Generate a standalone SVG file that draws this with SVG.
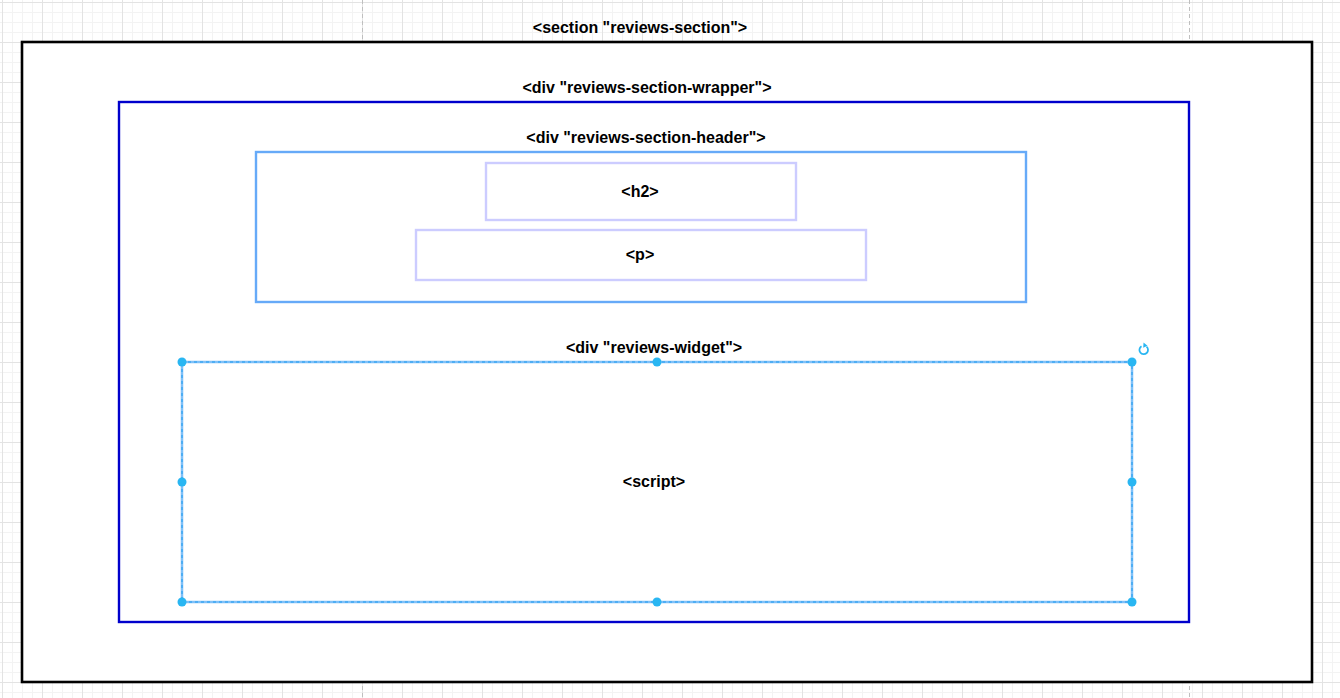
<svg xmlns="http://www.w3.org/2000/svg" width="1340" height="698" viewBox="0 0 1340 698">
  <style>
    .lbl { font-family: "Liberation Sans", Arial, sans-serif; font-size: 16px; font-weight: bold; fill: #000000; text-anchor: middle; }
    .handle { fill: #29B6F2; }
    .box { fill: none; stroke-width: 2.4; }
  </style>
  <defs>
    <pattern id="grid" width="40" height="40" patternUnits="userSpaceOnUse">
      <rect width="40" height="40" fill="#ffffff"/>
      <path d="M12.5 0V40M22.5 0V40M32.5 0V40M0 12.5H40M0 22.5H40M0 32.5H40" stroke="#f3f3f3" stroke-width="1" fill="none"/>
      <path d="M2.5 0V40M0 2.5H40" stroke="#e3e3e3" stroke-width="1" fill="none"/>
    </pattern>
  </defs>
  <g id="background">
    <rect x="0" y="0" width="1340" height="698" fill="url(#grid)"/>
    <path d="M362.5 0V698M1189.5 0V698" stroke="#bfbfbf" stroke-width="1" stroke-dasharray="4 3" fill="none"/>
  </g>
  <g id="section">
    <rect x="22" y="42" width="1290" height="640" fill="#ffffff" stroke="#000000" stroke-width="2.6"/>
    <text class="lbl" x="640" y="33">&lt;section "reviews-section"&gt;</text>
  </g>
  <g id="wrapper">
    <rect class="box" x="119" y="102" width="1070" height="520" stroke="#0000CC"/>
    <text class="lbl" x="647" y="93">&lt;div "reviews-section-wrapper"&gt;</text>
  </g>
  <g id="header">
    <rect class="box" x="256" y="152" width="770" height="150" stroke="#66AAF8"/>
    <text class="lbl" x="646" y="143">&lt;div "reviews-section-header"&gt;</text>
  </g>
  <g id="h2">
    <rect class="box" x="486" y="163" width="310" height="57" stroke="#CCCCFF"/>
    <text class="lbl" x="640" y="197">&lt;h2&gt;</text>
  </g>
  <g id="p">
    <rect class="box" x="416" y="230" width="450" height="50" stroke="#CCCCFF"/>
    <text class="lbl" x="640" y="260">&lt;p&gt;</text>
  </g>
  <g id="widget">
    <rect x="182" y="362" width="950" height="240" fill="none" stroke="#7FC0F8" stroke-width="2.5"/>
    <rect x="182" y="362" width="950" height="240" fill="none" stroke="#1E9BEF" stroke-width="1" stroke-dasharray="3 3"/>
    <text class="lbl" x="654" y="353">&lt;div "reviews-widget"&gt;</text>
    <text class="lbl" x="654" y="487">&lt;script&gt;</text>
    <circle class="handle" cx="182" cy="362" r="4.5"/>
    <circle class="handle" cx="657" cy="362" r="4.5"/>
    <circle class="handle" cx="1132" cy="362" r="4.5"/>
    <circle class="handle" cx="182" cy="482" r="4.5"/>
    <circle class="handle" cx="1132" cy="482" r="4.5"/>
    <circle class="handle" cx="182" cy="602" r="4.5"/>
    <circle class="handle" cx="657" cy="602" r="4.5"/>
    <circle class="handle" cx="1132" cy="602" r="4.5"/>
    <path d="M1141.5 346.2 A4.3 4.3 0 1 0 1146.5 346.6" fill="none" stroke="#29B6F2" stroke-width="1.8"/>
    <path d="M1143.5 342.5 L1147.5 345.8 L1143.2 347.8 Z" fill="#29B6F2"/>
  </g>
  <g id="connectors"/>
</svg>
